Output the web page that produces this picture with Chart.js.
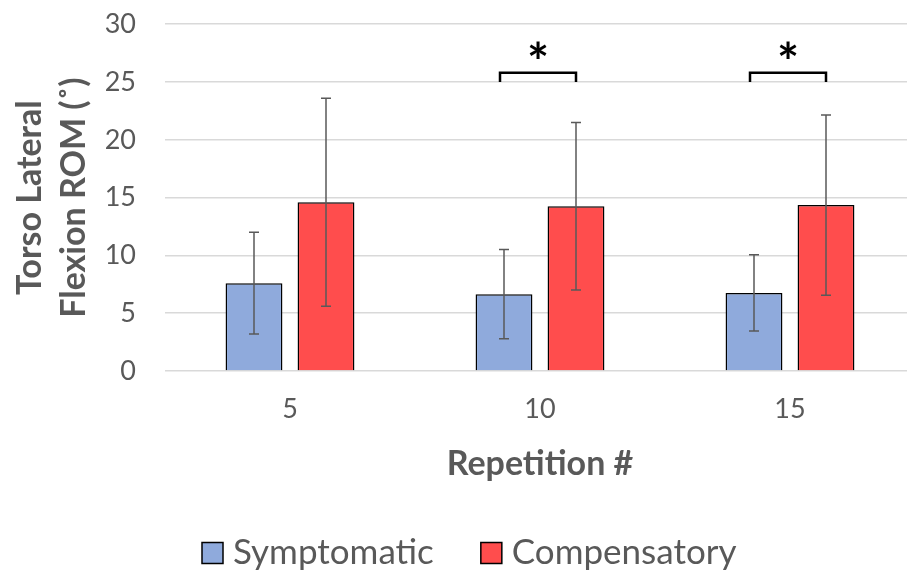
<!DOCTYPE html>
<html>
<head>
<meta charset="utf-8">
<script src="https://cdn.jsdelivr.net/npm/chart.js@4"></script>
<style>
  html, body { margin: 0; padding: 0; background: #fff; overflow: hidden; }
  #wrap { width: 915px; height: 571px; }
</style>
</head>
<body>
<div id="wrap"><canvas id="chart"></canvas></div>
<script>
const repetitions = ['5', '10', '15'];
const symptomatic = [7.6, 6.65, 6.75];
const compensatory = [14.6, 14.25, 14.35];
const errSymptomatic = [4.4, 3.85, 3.3];
const errCompensatory = [9.0, 7.25, 7.8];
// categories that got a significance bracket, and its height
const significant = ['10', '15'];
const bracketLevel = 25.8;

const textColor = '#595959';
const fontFamily = 'Lato, "Open Sans", sans-serif';

const errorBars = {
  id: 'errorBars',
  afterDatasetsDraw(chart) {
    const ctx = chart.ctx;
    const y = chart.scales.y;
    const errs = [errSymptomatic, errCompensatory];
    ctx.save();
    ctx.strokeStyle = '#595959';
    ctx.lineWidth = 1.5;
    chart.data.datasets.forEach((ds, i) => {
      chart.getDatasetMeta(i).data.forEach((bar, j) => {
        const top = y.getPixelForValue(ds.data[j] + errs[i][j]);
        const bot = y.getPixelForValue(ds.data[j] - errs[i][j]);
        ctx.beginPath();
        ctx.moveTo(bar.x, top); ctx.lineTo(bar.x, bot);
        ctx.moveTo(bar.x - 5, top); ctx.lineTo(bar.x + 5, top);
        ctx.moveTo(bar.x - 5, bot); ctx.lineTo(bar.x + 5, bot);
        ctx.stroke();
      });
    });
    // significance brackets
    ctx.strokeStyle = '#000';
    ctx.lineWidth = 2.5;
    ctx.fillStyle = '#000';
    ctx.font = 'bold 52px ' + fontFamily;
    ctx.textAlign = 'center';
    significant.forEach(cat => {
      const j = repetitions.indexOf(cat);
      const x1 = chart.getDatasetMeta(0).data[j].x - 4;
      const x2 = chart.getDatasetMeta(1).data[j].x;
      const yt = y.getPixelForValue(bracketLevel);
      const yb = y.getPixelForValue(25);
      ctx.beginPath();
      ctx.moveTo(x1, yb); ctx.lineTo(x1, yt); ctx.lineTo(x2, yt); ctx.lineTo(x2, yb);
      ctx.stroke();
      ctx.fillText('*', (x1 + x2) / 2, yt + 8);
    });
    ctx.restore();
  }
};

// legend drawn by hand so the spacing follows the reference
const bottomLegend = {
  id: 'bottomLegend',
  afterDraw(chart) {
    const ctx = chart.ctx;
    const box = 21, gap = 10, spacing = 47, cy = 553;
    ctx.save();
    ctx.font = '35px ' + fontFamily;
    ctx.textBaseline = 'middle';
    let x = 202;
    chart.data.datasets.forEach(ds => {
      ctx.fillStyle = ds.backgroundColor;
      ctx.fillRect(x, cy - box / 2, box, box);
      ctx.strokeStyle = '#000';
      ctx.lineWidth = 1.5;
      ctx.strokeRect(x, cy - box / 2, box, box);
      ctx.fillStyle = textColor;
      ctx.fillText(ds.label, x + box + gap, cy);
      x += box + gap + ctx.measureText(ds.label).width + spacing;
    });
    ctx.restore();
  }
};

new Chart(document.getElementById('chart'), {
  type: 'bar',
  data: {
    labels: repetitions,
    datasets: [
      { label: 'Symptomatic', data: symptomatic, backgroundColor: '#8FAADC', borderColor: '#000', borderWidth: 1.5 },
      { label: 'Compensatory', data: compensatory, backgroundColor: '#FF4D4D', borderColor: '#000', borderWidth: 1.5 }
    ]
  },
  options: {
    responsive: true,
    maintainAspectRatio: false,
    animation: false,
    datasets: { bar: { categoryPercentage: 0.576, barPercentage: 0.79 } },
    layout: { padding: { top: 0, left: 4, right: 0, bottom: 80 } },
    plugins: {
      tooltip: { enabled: false },
      legend: { display: false }
    },
    scales: {
      x: {
        grid: { display: false },
        border: { display: false },
        ticks: { color: textColor, font: { family: fontFamily, size: 27 }, padding: 14 },
        title: { display: true, text: 'Repetition #', color: textColor, font: { family: fontFamily, size: 34, weight: 'bold' }, padding: { top: 10, bottom: 7 } },
        afterFit(scale) { scale.height = 120; }
      },
      y: {
        min: 0, max: 30,
        ticks: { stepSize: 5, color: textColor, font: { family: fontFamily, size: 27 }, padding: 8 },
        grid: { color: '#d9d9d9', lineWidth: 1.5, drawTicks: true, tickLength: 21, tickColor: 'rgba(0,0,0,0)' },
        border: { display: false },
        title: {
          display: true,
          text: ['Torso Lateral', 'Flexion ROM (˚)'],
          color: textColor,
          font: { family: fontFamily, size: 34, weight: 'bold', lineHeight: 1.3 }
        },
        afterFit(scale) { scale.width = 161; }
      }
    }
  },
  plugins: [errorBars, bottomLegend]
});
</script>
</body>
</html>
